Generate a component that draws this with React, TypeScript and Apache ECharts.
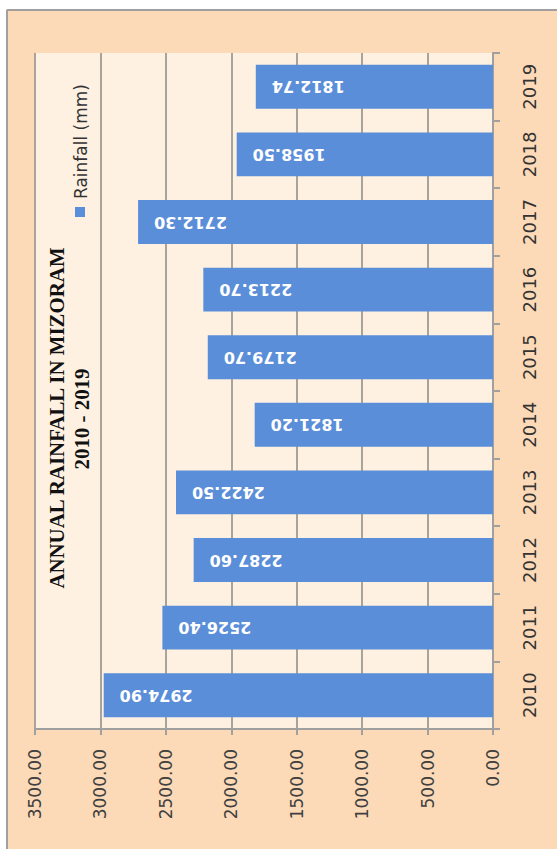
import React, { useEffect, useRef } from "react";
import * as echarts from "echarts";

const years = ["2010", "2011", "2012", "2013", "2014", "2015", "2016", "2017", "2018", "2019"];
const rainfall = [2974.9, 2526.4, 2287.6, 2422.5, 1821.2, 2179.7, 2213.7, 2712.3, 1958.5, 1812.74];
const titleText = "ANNUAL RAINFALL IN MIZORAM";
const subtitleText = "2010 - 2019";
const seriesName = "Rainfall (mm)";
const axisMin = 0;
const axisMax = 3500;
const axisStep = 500;

export default function App() {
  const ref = useRef<HTMLDivElement>(null);
  useEffect(() => {
    if (!ref.current) return;
    const chart = echarts.init(ref.current, null, { renderer: "svg" });
    const blue = "#5B8ED8";
    chart.setOption({
      animation: false,
      backgroundColor: "#FCDAB7",
      graphic: [
        { type: "rect", z: 100, shape: { x: 0, y: 0, width: 557, height: 9 }, style: { fill: "#ffffff" } },
        { type: "rect", z: 100, shape: { x: 0, y: 0, width: 6, height: 849 }, style: { fill: "#ffffff" } },
        { type: "line", z: 100, shape: { x1: 7, y1: 10, x2: 557, y2: 10 }, style: { stroke: "#A0A0A0", lineWidth: 2 } },
        { type: "line", z: 100, shape: { x1: 7, y1: 10, x2: 7, y2: 849 }, style: { stroke: "#A0A0A0", lineWidth: 2 } },
        {
          type: "text", z: 100, x: 57, y: 418, rotation: Math.PI / 2, scaleX: 0.95,
          style: { text: titleText, fontFamily: "Liberation Serif", fontWeight: "bold", fontSize: 22, fill: "#111", textAlign: "center", textVerticalAlign: "middle" },
        },
        {
          type: "text", z: 100, x: 82, y: 419, rotation: Math.PI / 2, scaleX: 0.95,
          style: { text: subtitleText, fontFamily: "Liberation Serif", fontWeight: "bold", fontSize: 22, fill: "#111", textAlign: "center", textVerticalAlign: "middle" },
        },
        { type: "rect", z: 100, shape: { x: 75, y: 207, width: 10, height: 10 }, style: { fill: blue } },
        {
          type: "text", z: 100, x: 81, y: 199, rotation: Math.PI / 2,
          style: { text: seriesName, fontFamily: "DejaVu Sans", fontSize: 17, fill: "#333", textAlign: "left", textVerticalAlign: "middle" },
        },
      ],
      grid: {
        left: 35, top: 53, right: 64, bottom: 120,
        show: true, backgroundColor: "#FEF1E2", borderWidth: 0,
      },
      xAxis: {
        type: "value", min: axisMin, max: axisMax, interval: axisStep, inverse: true, position: "bottom",
        axisLine: { show: true, lineStyle: { color: "#A0A0A0", width: 2 } },
        axisTick: { show: true, length: 6, lineStyle: { color: "#A0A0A0", width: 2 } },
        splitLine: { show: true, lineStyle: { color: "#A8A39B", width: 2 } },
        axisLabel: {
          rotate: 90, margin: 20, fontSize: 17, fontFamily: "DejaVu Sans", color: "#404040",
          formatter: (v: number) => v.toFixed(2),
        },
      },
      yAxis: {
        type: "category", data: years, position: "right",
        axisLine: { show: true, lineStyle: { color: "#A0A0A0", width: 2 } },
        axisTick: { show: true, length: 7, lineStyle: { color: "#A0A0A0", width: 2 } },
        splitLine: { show: false },
        axisLabel: { rotate: 90, margin: 27, fontSize: 18, fontFamily: "DejaVu Sans", color: "#333" },
      },
      series: [
        {
          name: seriesName, type: "bar", data: rainfall, barCategoryGap: "35%",
          itemStyle: { color: blue },
          label: {
            show: true, position: "insideLeft", distance: 16, rotate: 180, align: "right", verticalAlign: "middle",
            color: "#ffffff", fontWeight: "bold", fontSize: 16, fontFamily: "DejaVu Sans",
            formatter: (p: any) => Number(p.value).toFixed(2),
          },
        },
      ],
    });
    return () => chart.dispose();
  }, []);
  return <div ref={ref} style={{ position: "absolute", left: 0, top: 0, width: 557, height: 849 }} />;
}
